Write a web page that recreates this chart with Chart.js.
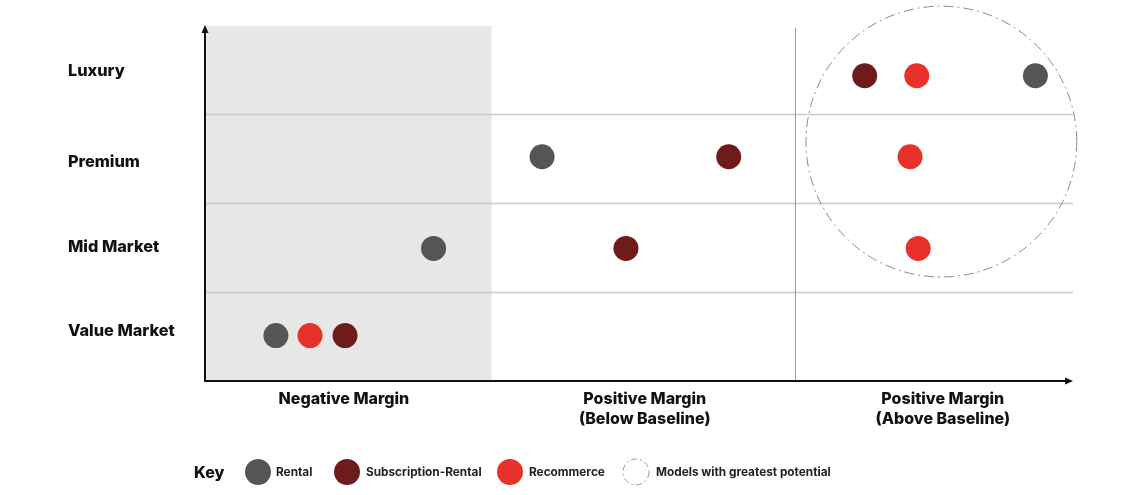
<!DOCTYPE html>
<html>
<head>
<meta charset="utf-8">
<script src="https://cdn.jsdelivr.net/npm/chart.js@4/dist/chart.umd.min.js"></script>
<style>
  html, body { margin: 0; padding: 0; background: #fff; }
  #wrap { width: 1131px; height: 495px; position: relative; }
</style>
</head>
<body>
<div id="wrap"><canvas id="chart"></canvas></div>
<script>
// Row categories (bottom to top) and column categories (left to right)
const segments = ['Value Market', 'Mid Market', 'Premium', 'Luxury'];
const segmentTickPos = [0.56, 1.51, 2.46, 3.48];
const margins = [['Negative Margin'], ['Positive Margin', '(Below Baseline)'], ['Positive Margin', '(Above Baseline)']];
const marginTickPos = [0.48, 1.52, 2.55];

// Business model positions (x = margin position, y = market segment)
const rentalX = [0.245, 0.79, 1.165, 2.87];
const rentalY = [0.51, 1.49, 2.52, 3.43];
const subscriptionX = [0.484, 1.455, 1.81, 2.28];
const subscriptionY = [0.51, 1.49, 2.52, 3.43];
const recommerceX = [0.363, 2.465, 2.437, 2.46];
const recommerceY = [0.51, 1.49, 2.52, 3.43];

// Shaded negative-margin zone, column divider, highlight circle
const negativeZoneEnd = 0.99;
const dividerX = 2.04;
const potentialCenter = {x: 2.545, y: 2.69};
const potentialRadius = 0.468; // in x units

const seriesInfo = [
    {label: 'Rental', color: '#545557', xs: rentalX, ys: rentalY},
    {label: 'Subscription-Rental', color: '#6e1b1b', xs: subscriptionX, ys: subscriptionY},
    {label: 'Recommerce', color: '#e8312a', xs: recommerceX, ys: recommerceY}
];

const datasets = seriesInfo.map(s => ({
    label: s.label,
    data: s.xs.map((x, i) => ({x: x, y: s.ys[i]})),
    backgroundColor: s.color,
    borderWidth: 0,
    pointRadius: 12.5,
    pointHoverRadius: 12.5
}));

//Draws the background zone, gridlines, axes with arrows, highlight circle and key
const matrixPlugin = {
    id: 'matrix',
    beforeDatasetsDraw(chart) {
        const ctx = chart.ctx;
        const xs = chart.scales.x, ys = chart.scales.y;
        const left = xs.getPixelForValue(0), right = xs.getPixelForValue(3);
        const bottom = ys.getPixelForValue(0), top = ys.getPixelForValue(4);
        ctx.save();
        ctx.fillStyle = '#e7e7e6';
        ctx.fillRect(left, top + 1, xs.getPixelForValue(negativeZoneEnd) - left, bottom - top - 1);

        ctx.strokeStyle = '#c9c9c9';
        ctx.lineWidth = 1.5;
        [1, 2, 3].forEach(v => {
            const y = Math.round(ys.getPixelForValue(v)) + 0.5;
            ctx.beginPath();
            ctx.moveTo(left, y);
            ctx.lineTo(right, y);
            ctx.stroke();
        });

        ctx.strokeStyle = '#9a9a9a';
        ctx.lineWidth = 1;
        const dx = Math.round(xs.getPixelForValue(dividerX)) + 0.5;
        ctx.beginPath();
        ctx.moveTo(dx, ys.getPixelForValue(3.97));
        ctx.lineTo(dx, bottom);
        ctx.stroke();

        // axes
        ctx.strokeStyle = '#111';
        ctx.fillStyle = '#111';
        ctx.lineWidth = 2;
        ctx.beginPath();
        ctx.moveTo(left, top + 3);
        ctx.lineTo(left, bottom);
        ctx.lineTo(right - 4, bottom);
        ctx.stroke();
        ctx.beginPath();
        ctx.moveTo(left, top);
        ctx.lineTo(left - 3.5, top + 8);
        ctx.lineTo(left + 3.5, top + 8);
        ctx.closePath();
        ctx.fill();
        ctx.beginPath();
        ctx.moveTo(right, bottom);
        ctx.lineTo(right - 8, bottom - 3.5);
        ctx.lineTo(right - 8, bottom + 3.5);
        ctx.closePath();
        ctx.fill();
        ctx.restore();
    },
    afterDatasetsDraw(chart) {
        const ctx = chart.ctx;
        const xs = chart.scales.x, ys = chart.scales.y;
        const cx = xs.getPixelForValue(potentialCenter.x);
        const cy = ys.getPixelForValue(potentialCenter.y);
        const r = xs.getPixelForValue(potentialRadius) - xs.getPixelForValue(0);
        ctx.save();
        ctx.strokeStyle = '#8a8a8a';
        ctx.lineWidth = 1;
        ctx.setLineDash([10, 4, 2, 4]);
        ctx.beginPath();
        ctx.arc(cx, cy, r, 0, Math.PI * 2);
        ctx.stroke();
        ctx.restore();

        // key
        ctx.save();
        const ky = 472;
        ctx.textBaseline = 'middle';
        ctx.fillStyle = '#111';
        ctx.font = '800 16px Inter';
        ctx.fillText('Key', 194, ky + 1);
        ctx.font = '700 11.8px Inter';
        const keyItems = [
            {cx: 258, tx: 276, color: seriesInfo[0].color, text: seriesInfo[0].label},
            {cx: 347, tx: 366, color: seriesInfo[1].color, text: seriesInfo[1].label},
            {cx: 510, tx: 529, color: seriesInfo[2].color, text: seriesInfo[2].label},
            {cx: 636, tx: 656, color: null, text: 'Models with greatest potential'}
        ];
        keyItems.forEach(k => {
            ctx.beginPath();
            ctx.arc(k.cx, ky, 13, 0, Math.PI * 2);
            if (k.color) {
                ctx.fillStyle = k.color;
                ctx.fill();
            } else {
                ctx.setLineDash([6, 3, 2, 3]);
                ctx.strokeStyle = '#9a9a9a';
                ctx.lineWidth = 1;
                ctx.stroke();
                ctx.setLineDash([]);
            }
            ctx.fillStyle = '#222';
            ctx.fillText(k.text, k.tx, ky);
        });
        ctx.restore();
    }
};

const config = {
    type: 'scatter',
    data: {datasets: datasets},
    options: {
        responsive: true,
        maintainAspectRatio: false,
        animation: false,
        layout: {padding: {left: 68, right: 58, top: 25, bottom: 0}},
        plugins: {
            legend: {display: false},
            tooltip: {enabled: false}
        },
        scales: {
            x: {
                type: 'linear',
                min: 0,
                max: 3,
                afterBuildTicks: s => { s.ticks = marginTickPos.map(v => ({value: v})); },
                afterFit: s => { s.height = 114; },
                grid: {display: false, drawTicks: false},
                border: {display: false},
                ticks: {
                    autoSkip: false,
                    maxRotation: 0,
                    padding: 8,
                    color: '#111',
                    font: {family: 'Inter', weight: '800', size: 16, lineHeight: 1.27},
                    callback: (v, i) => margins[i]
                }
            },
            y: {
                type: 'linear',
                min: 0,
                max: 4,
                afterBuildTicks: s => { s.ticks = segmentTickPos.map(v => ({value: v})); },
                afterFit: s => { s.width = 137; },
                grid: {display: false, drawTicks: false},
                border: {display: false},
                ticks: {
                    autoSkip: false,
                    crossAlign: 'far',
                    color: '#111',
                    font: {family: 'Inter', weight: '800', size: 16.3},
                    callback: (v, i) => segments[i]
                }
            }
        }
    },
    plugins: [matrixPlugin]
};

new Chart(document.getElementById('chart').getContext('2d'), config);
</script>
</body>
</html>
